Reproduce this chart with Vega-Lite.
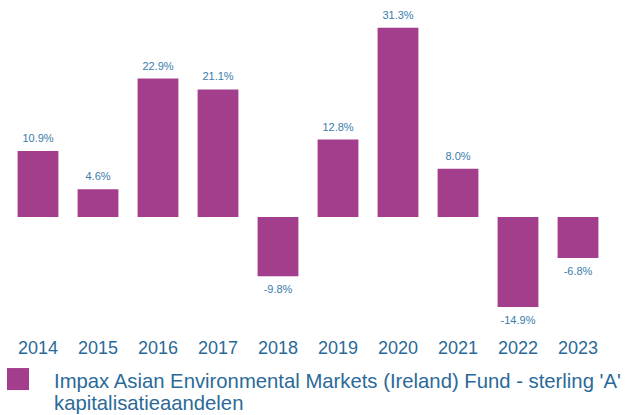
{
  "$schema": "https://vega.github.io/schema/vega-lite/v6.json",
  "width": 600,
  "height": 330,
  "autosize": "none",
  "padding": {"left": 8, "top": 0, "right": 32, "bottom": 85},
  "config": {"view": {"stroke": null}, "font": "Liberation Sans",
    "locale": {"number": {"decimal": ".", "thousands": ",", "grouping": [3], "currency": ["$", ""], "minus": "-"}}},
  "data": {"values": [
    {"year": "2014", "value": 0.109, "series": "Impax Asian Environmental Markets (Ireland) Fund - sterling 'A' kapitalisatieaandelen"},
    {"year": "2015", "value": 0.046, "series": "Impax Asian Environmental Markets (Ireland) Fund - sterling 'A' kapitalisatieaandelen"},
    {"year": "2016", "value": 0.229, "series": "Impax Asian Environmental Markets (Ireland) Fund - sterling 'A' kapitalisatieaandelen"},
    {"year": "2017", "value": 0.211, "series": "Impax Asian Environmental Markets (Ireland) Fund - sterling 'A' kapitalisatieaandelen"},
    {"year": "2018", "value": -0.098, "series": "Impax Asian Environmental Markets (Ireland) Fund - sterling 'A' kapitalisatieaandelen"},
    {"year": "2019", "value": 0.128, "series": "Impax Asian Environmental Markets (Ireland) Fund - sterling 'A' kapitalisatieaandelen"},
    {"year": "2020", "value": 0.313, "series": "Impax Asian Environmental Markets (Ireland) Fund - sterling 'A' kapitalisatieaandelen"},
    {"year": "2021", "value": 0.080, "series": "Impax Asian Environmental Markets (Ireland) Fund - sterling 'A' kapitalisatieaandelen"},
    {"year": "2022", "value": -0.149, "series": "Impax Asian Environmental Markets (Ireland) Fund - sterling 'A' kapitalisatieaandelen"},
    {"year": "2023", "value": -0.068, "series": "Impax Asian Environmental Markets (Ireland) Fund - sterling 'A' kapitalisatieaandelen"}
  ]},
  "encoding": {
    "x": {"field": "year", "type": "ordinal",
      "scale": {"paddingInner": 0.32, "paddingOuter": 0.16},
      "axis": {"title": null, "domain": false, "ticks": false, "labelAngle": 0,
        "labelFontSize": 18, "labelColor": "#2b6a98", "labelPadding": 9, "labelFont": "Liberation Sans"}}
  },
  "layer": [
    {
      "mark": {"type": "bar"},
      "encoding": {
        "y": {"field": "value", "type": "quantitative",
          "scale": {"domain": [-0.187, 0.359], "nice": false, "zero": false},
          "axis": null},
        "color": {"field": "series", "type": "nominal",
          "scale": {"range": ["#a33e8c"]},
          "legend": {"title": null, "orient": "none", "legendX": -1, "legendY": 361,
            "symbolType": "M-1,-0.36H1V1.64H-1Z", "symbolSize": 484, "symbolOpacity": 1, "symbolStrokeWidth": 0,
            "labelFontSize": 20.3, "labelColor": "#2b6a98", "labelLimit": 0, "labelOffset": 25,
            "labelBaseline": "top", "labelLineHeight": 24,
            "labelExpr": "[slice(datum.label, 0, indexof(datum.label, ' kapit')), slice(datum.label, indexof(datum.label, ' kapit') + 1)]"}}
      }
    },
    {
      "mark": {"type": "rule", "color": "#a5acb3", "strokeWidth": 2},
      "encoding": {"y": {"datum": 0, "type": "quantitative"}}
    },
    {
      "transform": [{"filter": "datum.value >= 0"}],
      "mark": {"type": "text", "baseline": "bottom", "dy": -7, "fontSize": 11, "color": "#3a7cab"},
      "encoding": {
        "y": {"field": "value", "type": "quantitative"},
        "text": {"field": "value", "type": "quantitative", "format": ".1%"}
      }
    },
    {
      "transform": [{"filter": "datum.value < 0"}],
      "mark": {"type": "text", "baseline": "top", "dy": 8, "fontSize": 11, "color": "#3a7cab"},
      "encoding": {
        "y": {"field": "value", "type": "quantitative"},
        "text": {"field": "value", "type": "quantitative", "format": ".1%"}
      }
    }
  ]
}
